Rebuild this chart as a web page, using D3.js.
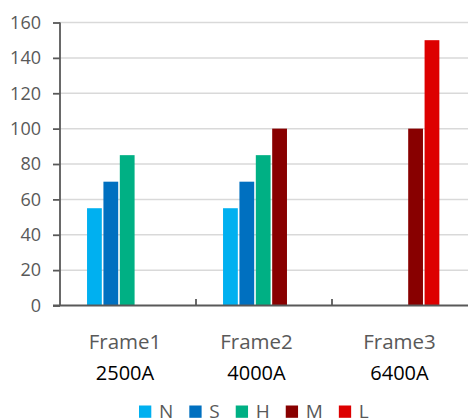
<!DOCTYPE html>
<html>
<head>
<meta charset="utf-8">
<script src="https://cdn.jsdelivr.net/npm/d3@7"></script>
<style>
  html, body { margin: 0; padding: 0; background: #fff; }
  svg { display: block; font-family: "Open Sans", "Noto Sans", sans-serif; }
</style>
</head>
<body>
<svg id="chart" width="468" height="419"></svg>
<script>
// ---- data ----
const categories = ["Frame1", "Frame2", "Frame3"];
const subLabels = ["2500A", "4000A", "6400A"];
const seriesNames = ["N", "S", "H", "M", "L"];
const seriesN = [55, 55, null];
const seriesS = [70, 70, null];
const seriesH = [85, 85, null];
const seriesM = [null, 100, 100];
const seriesL = [null, null, 150];
const yTicks = [0, 20, 40, 60, 80, 100, 120, 140, 160];

// ---- styles / layout ----
const colors = ["#00B0F0", "#0070C0", "#00B084", "#880000", "#DD0000"];
const labelNudge = [-3, -7.5, -0.5];
const W = 468, H = 419;
const plot = { left: 60, right: 468, top: 22.5, bottom: 305.5 };

const seriesValues = [seriesN, seriesS, seriesH, seriesM, seriesL];
const svg = d3.select("#chart");

const x = d3.scaleBand().domain(categories).range([plot.left, plot.right]);
const xs = d3.scaleBand().domain(seriesNames).range([0, x.bandwidth()])
  .paddingInner(0).paddingOuter(1.65);
const y = d3.scaleLinear().domain([0, 160]).range([plot.bottom, plot.top]);

// gridlines
svg.append("g")
  .selectAll("line")
  .data(yTicks.filter(d => d > 0))
  .join("line")
  .attr("x1", plot.left).attr("x2", plot.right)
  .attr("y1", d => y(d)).attr("y2", d => y(d))
  .attr("stroke", "#d9d9d9").attr("stroke-width", 1.5);

// bars
const barData = [];
seriesNames.forEach((s, si) => {
  categories.forEach((c, ci) => {
    const v = seriesValues[si][ci];
    if (v != null) barData.push({ s, si, c, v });
  });
});
svg.append("g")
  .selectAll("rect")
  .data(barData)
  .join("rect")
  .attr("x", d => x(d.c) + xs(d.s))
  .attr("width", xs.bandwidth() - 1.6)
  .attr("y", d => y(d.v))
  .attr("height", d => y(0) - y(d.v))
  .attr("fill", d => colors[d.si]);

// y axis
const yAxis = d3.axisLeft(y).tickValues(yTicks).tickSize(7).tickPadding(12);
const gy = svg.append("g").attr("transform", `translate(${plot.left},0)`).call(yAxis);
gy.select(".domain").attr("stroke", "#595959").attr("stroke-width", 1.8)
  .attr("d", `M0,${plot.top}V${plot.bottom}`);
gy.selectAll(".tick line").attr("stroke", "#595959").attr("stroke-width", 1.8);
gy.selectAll(".tick text").attr("fill", "#595959")
  .style("font-size", "18px").style("font-family", "'Open Sans', sans-serif");

// x axis (ticks at band boundaries, pointing up)
const gx = svg.append("g");
gx.append("line")
  .attr("x1", plot.left - 7).attr("x2", plot.right)
  .attr("y1", y(0)).attr("y2", y(0))
  .attr("stroke", "#595959").attr("stroke-width", 1.8);
gx.selectAll("line.tk")
  .data(categories.slice(1))
  .join("line").attr("class", "tk")
  .attr("x1", d => x(d)).attr("x2", d => x(d))
  .attr("y1", y(0)).attr("y2", y(0) - 6.5)
  .attr("stroke", "#595959").attr("stroke-width", 1.8);

// category labels
svg.append("g")
  .selectAll("text")
  .data(categories)
  .join("text")
  .attr("x", (d, i) => x(d) + x.bandwidth() / 2 + labelNudge[i])
  .attr("y", 348.5)
  .attr("text-anchor", "middle")
  .attr("fill", "#595959")
  .style("font-size", "20.5px")
  .text(d => d);

svg.append("g")
  .selectAll("text")
  .data(subLabels)
  .join("text")
  .attr("x", (d, i) => x(categories[i]) + x.bandwidth() / 2 + labelNudge[i])
  .attr("y", 379.5)
  .attr("text-anchor", "middle")
  .attr("fill", "#000")
  .style("font-size", "20px")
  .text(d => d);

// legend
const legend = svg.append("g");
let lx = 139;
seriesNames.forEach((s, i) => {
  legend.append("rect")
    .attr("x", lx).attr("y", 405.5)
    .attr("width", 12.3).attr("height", 12.3)
    .attr("fill", colors[i]);
  const t = legend.append("text")
    .attr("x", lx + 20).attr("y", 417.5)
    .attr("fill", "#595959")
    .style("font-size", "19px")
    .text(s);
  const w = t.node().getComputedTextLength();
  lx = lx + 20 + w + 16;
});
</script>
</body>
</html>
